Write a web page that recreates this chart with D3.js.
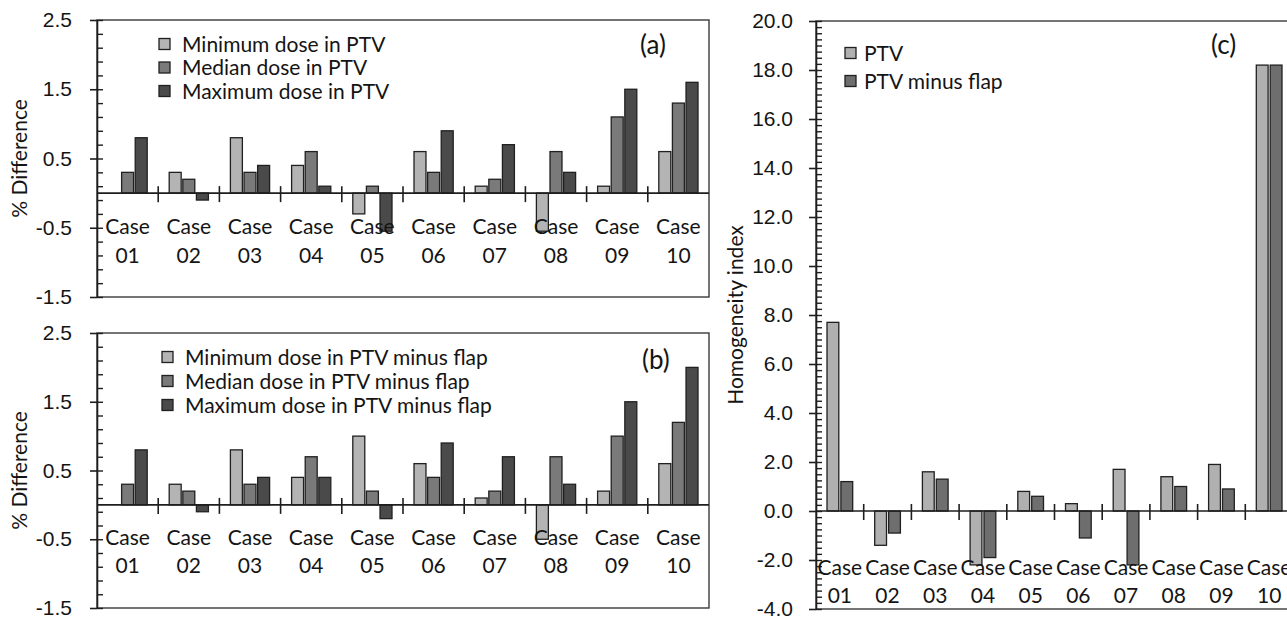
<!DOCTYPE html>
<html>
<head>
<meta charset="utf-8">
<script src="https://cdn.jsdelivr.net/npm/d3@7"></script>
<style>
  body { margin: 0; background: #fff; }
  svg { display: block; font-family: Lato, "Open Sans", sans-serif; }
  text { fill: #141414; }
</style>
</head>
<body>
<div id="chart"></div>
<script>
const width = 1287, height = 617;

// data
const cases = ['01', '02', '03', '04', '05', '06', '07', '08', '09', '10'];
const minA = [0, 0.3, 0.8, 0.4, -0.3, 0.6, 0.1, -0.55, 0.1, 0.6];
const medA = [0.3, 0.2, 0.3, 0.6, 0.1, 0.3, 0.2, 0.6, 1.1, 1.3];
const maxA = [0.8, -0.1, 0.4, 0.1, -0.55, 0.9, 0.7, 0.3, 1.5, 1.6];
const minB = [0, 0.3, 0.8, 0.4, 1.0, 0.6, 0.1, -0.5, 0.2, 0.6];
const medB = [0.3, 0.2, 0.3, 0.7, 0.2, 0.4, 0.2, 0.7, 1.0, 1.2];
const maxB = [0.8, -0.1, 0.4, 0.4, -0.2, 0.9, 0.7, 0.3, 1.5, 2.0];
const hiPTV = [7.7, -1.4, 1.6, -2.2, 0.8, 0.3, 1.7, 1.4, 1.9, 18.2];
const hiFlap = [1.2, -0.9, 1.3, -1.9, 0.6, -1.1, -2.2, 1.0, 0.9, 18.2];

const ticksDiff = [-1.5, -0.5, 0.5, 1.5, 2.5];
const ticksHI = [-4, -2, 0, 2, 4, 6, 8, 10, 12, 14, 16, 18, 20];

const legendA = ['Minimum dose in PTV', 'Median dose in PTV', 'Maximum dose in PTV'];
const legendB = ['Minimum dose in PTV minus flap', 'Median dose in PTV minus flap', 'Maximum dose in PTV minus flap'];
const legendC = ['PTV', 'PTV minus flap'];

const grays3 = ['#b4b4b4', '#7a7a7a', '#4a4a4a'];
const grays2 = ['#b0b0b0', '#6e6e6e'];

const svg = d3.select('#chart').append('svg').attr('width', width).attr('height', height);
const fmt1 = d3.format('.1f');

function panel(o) {
	let g = svg.append('g');
	let x = d3.scaleBand().domain(cases).range([o.left, o.right]);
	let y = d3.scaleLinear().domain(o.domain).range([o.bottom, o.top]);
	let bw = x.bandwidth();
	let sub = d3.scaleBand().domain(d3.range(o.series.length))
		.range([o.gap, bw - o.gap]).paddingInner(o.inner);

	// frame
	g.append('rect').attr('x', o.left).attr('y', o.top)
		.attr('width', o.right - o.left).attr('height', o.bottom - o.top)
		.attr('fill', 'none').attr('stroke', '#3a3a3a').attr('stroke-width', 1.4);

	// bars
	o.series.forEach((vals, si) => {
		g.selectAll(null).data(vals).enter().append('rect')
			.attr('x', (d, i) => x(cases[i]) + sub(si))
			.attr('width', sub.bandwidth())
			.attr('y', d => y(Math.max(0, d)))
			.attr('height', d => Math.abs(y(d) - y(0)))
			.attr('fill', o.colors[si])
			.attr('stroke', '#202020').attr('stroke-width', 1.3);
	});

	// value axis: crossing majors, inside minors
	let yax = g.append('g').attr('transform', `translate(${o.left},0)`)
		.call(d3.axisLeft(y).tickValues(o.ticks).tickSize(7).tickSizeOuter(0)
			.tickFormat(d => fmt1(d).replace('\u2212', '-')).tickPadding(o.pad));
	yax.select('.domain').attr('stroke', '#1e1e1e').attr('stroke-width', 1.6);
	yax.selectAll('.tick line').attr('stroke', '#1e1e1e').attr('stroke-width', 1.6);
	yax.selectAll('.tick text').style('font-size', '21px').attr('fill', '#141414');
	let minor = d3.range(o.domain[0], o.domain[1] + 1e-6, o.minor);
	let ymin = g.append('g').attr('transform', `translate(${o.left},0)`)
		.call(d3.axisRight(y).tickValues(minor).tickSize(6).tickSizeOuter(0).tickFormat(''));
	ymin.select('.domain').remove();
	ymin.selectAll('.tick line').attr('stroke', '#1e1e1e').attr('stroke-width', 1.4);

	// category axis on the zero line
	g.append('line').attr('x1', o.left).attr('x2', o.right)
		.attr('y1', y(0)).attr('y2', y(0)).attr('stroke', '#1e1e1e').attr('stroke-width', 1.6);
	g.selectAll(null).data(cases.slice(1)).enter().append('line')
		.attr('x1', d => x(d)).attr('x2', d => x(d))
		.attr('y1', y(0) - 7).attr('y2', y(0) + 9)
		.attr('stroke', '#1e1e1e').attr('stroke-width', 1.6);
	let lab = g.selectAll(null).data(cases).enter().append('text')
		.attr('text-anchor', 'middle').style('font-size', '21px');
	lab.append('tspan').attr('x', d => x(d) + bw / 2).attr('y', y(0) + o.lab1).text('Case');
	lab.append('tspan').attr('x', d => x(d) + bw / 2).attr('y', y(0) + o.lab2).text(d => d);

	// axis title
	g.append('text').attr('transform', `translate(${o.titleX},${(o.top + o.bottom) / 2}) rotate(-90)`)
		.attr('text-anchor', 'middle').style('font-size', '21px').text(o.title);

	// panel tag
	g.append('text').attr('x', o.tagX).attr('y', o.tagY).style('font-size', '26px').text(o.tag);

	// legend
	o.legend.forEach((t, i) => {
		let ly = o.legY + i * o.legStep;
		g.append('rect').attr('x', o.legX).attr('y', ly - 5.5).attr('width', 11).attr('height', 11)
			.attr('fill', o.colors[i]).attr('stroke', '#202020').attr('stroke-width', 1.3);
		g.append('text').attr('x', o.legX + o.legGap).attr('y', ly + 7.5).style('font-size', '21px').text(t);
	});
}

panel({
	left: 97, right: 709, top: 20, bottom: 297, domain: [-1.5, 2.5],
	ticks: ticksDiff, minor: 0.2, pad: 18,
	series: [minA, medA, maxA], colors: grays3, gap: 11, inner: 0.12,
	lab1: 41, lab2: 70, title: '% Difference', titleX: 27,
	tag: '(a)', tagX: 640, tagY: 54,
	legend: legendA, legX: 159, legY: 44, legStep: 23.5, legGap: 23
});

panel({
	left: 97, right: 709, top: 333, bottom: 608, domain: [-1.5, 2.5],
	ticks: ticksDiff, minor: 0.2, pad: 18,
	series: [minB, medB, maxB], colors: grays3, gap: 11, inner: 0.12,
	lab1: 40, lab2: 68, title: '% Difference', titleX: 27,
	tag: '(b)', tagX: 642, tagY: 369,
	legend: legendB, legX: 162, legY: 357, legStep: 24, legGap: 23
});

panel({
	left: 816, right: 1293, top: 21, bottom: 609, domain: [-4, 20],
	ticks: ticksHI, minor: 0.25, pad: 16,
	series: [hiPTV, hiFlap], colors: grays2, gap: 11, inner: 0.15,
	lab1: 64, lab2: 92, title: 'Homogeneity index', titleX: 743,
	tag: '(c)', tagX: 1211, tagY: 54,
	legend: legendC, legX: 845, legY: 53, legStep: 28, legGap: 19
});
</script>
</body>
</html>
